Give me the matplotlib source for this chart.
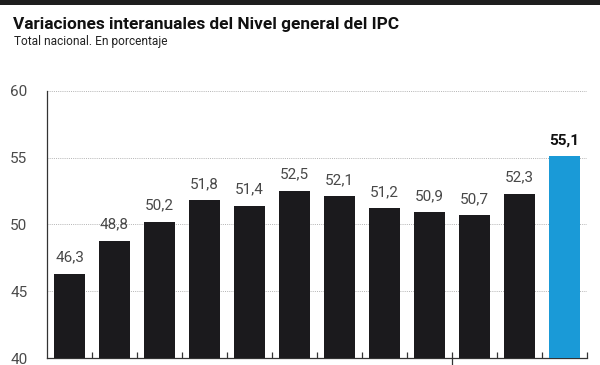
import numpy as np
import matplotlib.pyplot as plt
from matplotlib.patches import Rectangle

# data
valores = [46.3, 48.8, 50.2, 51.8, 51.4, 52.5, 52.1, 51.2, 50.9, 50.7, 52.3, 55.1]
etiquetas = ['46,3', '48,8', '50,2', '51,8', '51,4', '52,5', '52,1', '51,2', '50,9', '50,7', '52,3', '55,1']
y_ticks = [40, 45, 50, 55, 60]

titulo = 'Variaciones interanuales del Nivel general del IPC'
subtitulo = 'Total nacional. En porcentaje'

plt.rcParams['font.family'] = ['Roboto', 'DejaVu Sans']

fig = plt.figure(figsize=(6, 3.65), dpi=100)
fig.patch.set_facecolor('white')

# dark band across the top of the image
fig.patches.append(Rectangle((0, 1 - 5 / 365), 1, 5 / 365, transform=fig.transFigure,
                             facecolor='#1e1e1e', edgecolor='none'))

fig.text(13 / 600, 1 - 24 / 365, titulo, fontsize=12.4, fontweight='bold',
         color='#111111', va='center', ha='left')
fig.text(14 / 600, 1 - 41 / 365, subtitulo, fontsize=8.6, color='#222222',
         va='center', ha='left')

ax = fig.add_axes([47 / 600, 1 - 358 / 365, 540 / 600, (358 - 91) / 365])

x = np.arange(len(valores))
colores = ['#1b1a1d'] * (len(valores) - 1) + ['#1a9ad7']
ax.bar(x, [v - 40 for v in valores], bottom=40, width=0.71, color=colores, zorder=3)

for i, (v, t) in enumerate(zip(valores, etiquetas)):
    last = i == len(valores) - 1
    ax.text(i, v + 0.7, t, ha='center', va='bottom',
            fontsize=11,
            fontweight='bold' if last else 'normal',
            color='#111111' if last else '#484848')

ax.set_xlim(-0.5, len(valores) - 0.5)
ax.set_ylim(40, 60)
ax.set_yticks(y_ticks)
ax.set_yticklabels([str(t) for t in y_ticks], fontsize=11, color='#4a4a4a')
ax.tick_params(axis='y', length=0, pad=14)

for yv in y_ticks[1:]:
    ax.axhline(yv, color='#b4b4b4', lw=0.7, ls=(0, (1, 1.2)), zorder=1)

# separators between bars on the baseline
limites = np.arange(0.5, len(valores) - 0.5 + 1, 1.0)
ax.set_xticks(limites)
ax.set_xticklabels([])
ax.tick_params(axis='x', direction='in', length=4, width=0.9, color='#333333')
ax.plot([8.5, 8.5], [40, 39.4], color='#333333', lw=0.9, clip_on=False, zorder=4)

for s in ['top', 'right']:
    ax.spines[s].set_visible(False)
ax.spines['left'].set_color('#333333')
ax.spines['bottom'].set_color('#333333')
ax.spines['left'].set_linewidth(0.9)
ax.spines['bottom'].set_linewidth(0.9)

fig.savefig('out.png', dpi=100)
